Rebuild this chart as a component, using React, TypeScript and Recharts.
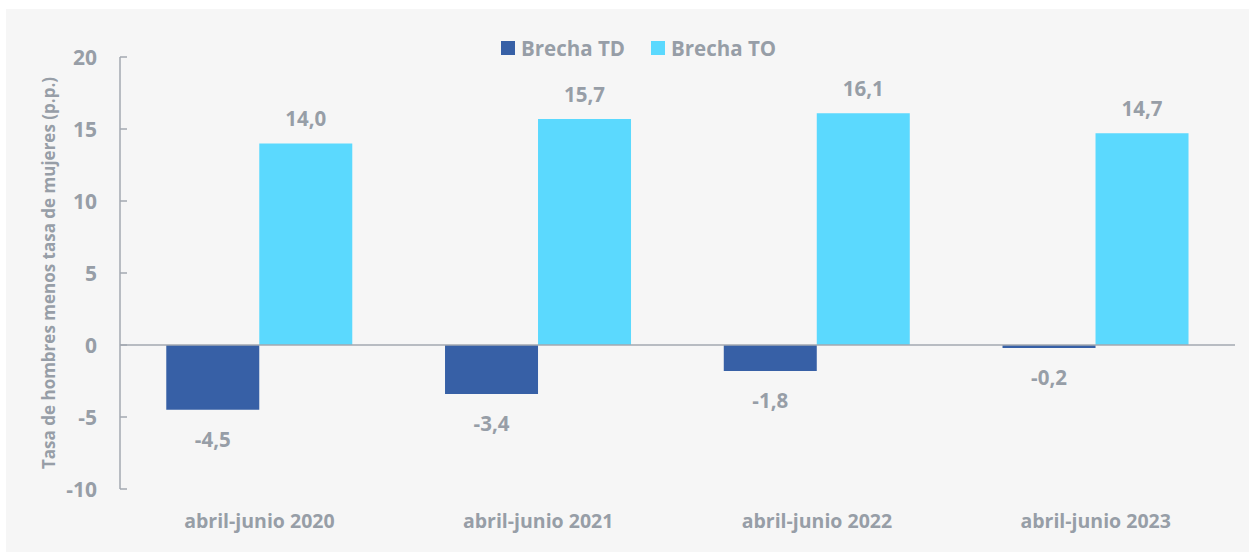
import { BarChart, Bar, XAxis, YAxis, ReferenceLine, LabelList } from 'recharts';

const categories = ['abril-junio 2020', 'abril-junio 2021', 'abril-junio 2022', 'abril-junio 2023'];
const brechaTD = [-4.5, -3.4, -1.8, -0.2];
const brechaTO = [14.0, 15.7, 16.1, 14.7];
const yTicks = [-10, -5, 0, 5, 10, 15, 20];

const data = categories.map((cat, i) => ({ cat, td: brechaTD[i], to: brechaTO[i] }));

const FONT = '"Open Sans", Lato, sans-serif';
const TEXT = '#979ea7';
const AXIS = '#a3a9b0';
const C_TD = '#3760a6';
const C_TO = '#5bd9fe';

const fmt = (v: number) => v.toFixed(1).replace('.', ',');

function YTick(props: any) {
  const { x, y, payload } = props;
  return (
    <g>
      <line x1={x} x2={x + 7} y1={y} y2={y} stroke={AXIS} strokeWidth={1.5} />
      <text x={x - 23} y={y} textAnchor="end" dominantBaseline="central" fill={TEXT}
        fontFamily={FONT} fontWeight={700} fontSize={21}>{payload.value}</text>
    </g>
  );
}

function XTick(props: any) {
  const { x, y, payload } = props;
  return (
    <text x={x} y={y + 39} textAnchor="middle" fill={TEXT} fontFamily={FONT} fontWeight={700} fontSize={19.5}>
      {payload.value}
    </text>
  );
}

function ValueLabel(props: any) {
  const { x, y, width, height, value } = props;
  const top = Math.min(y, y + height);
  const bottom = Math.max(y, y + height);
  const cy = value >= 0 ? top - 25 : bottom + 29;
  return (
    <text x={x + width / 2} y={cy} textAnchor="middle" dominantBaseline="central" fill={TEXT}
      fontFamily={FONT} fontWeight={700} fontSize={20.5}>{fmt(value)}</text>
  );
}

function YLabel(props: any) {
  const { viewBox } = props;
  const cx = viewBox.x + 42;
  const cy = viewBox.y + viewBox.height / 2;
  return (
    <text x={cx} y={cy} transform={`rotate(-90 ${cx} ${cy})`} textAnchor="middle" dominantBaseline="central"
      fill={TEXT} fontFamily={FONT} fontWeight={700} fontSize={17}>
      Tasa de hombres menos tasa de mujeres (p.p.)
    </text>
  );
}

function ChartLegend() {
  const items = [
    { label: 'Brecha TD', color: C_TD },
    { label: 'Brecha TO', color: C_TO },
  ];
  return (
    <div style={{ position: 'absolute', left: 495, top: 27, display: 'flex', alignItems: 'center', fontFamily: FONT, fontWeight: 700, fontSize: 20.5, color: TEXT, lineHeight: '24px', whiteSpace: 'nowrap' }}>
      {items.map((it, i) => (
        <div key={it.label} style={{ display: 'flex', alignItems: 'center', marginLeft: i === 0 ? 0 : 26 }}>
          <span style={{ display: 'inline-block', width: 14, height: 14, background: it.color, marginRight: 6 }} />
          <span>{it.label}</span>
        </div>
      ))}
    </div>
  );
}

export default function App() {
  return (
    <div style={{ position: 'fixed', left: 0, top: 0, width: 1249, height: 552, background: '#ffffff' }}>
      <div style={{ position: 'absolute', left: 6, top: 9, width: 1243, height: 543, background: '#f6f6f6' }}>
        <BarChart width={1243} height={543} data={data} margin={{ top: 48, right: 14, left: 0, bottom: 33 }}
          barCategoryGap="16.6%" barGap={0}>
          <XAxis dataKey="cat" height={30} axisLine={false} tickLine={false} tickSize={0} tickMargin={0} tick={<XTick />} interval={0} />
          <YAxis width={114} domain={[-10, 20]} ticks={yTicks} interval={0} axisLine={{ stroke: AXIS, strokeWidth: 1.5 }}
            tickLine={false} tickSize={0} tickMargin={0} tick={<YTick />} label={<YLabel />} />
          <ReferenceLine y={0} stroke={AXIS} strokeWidth={1.5} />
          <Bar dataKey="td" name="Brecha TD" fill={C_TD} isAnimationActive={false}>
            <LabelList dataKey="td" content={<ValueLabel />} />
          </Bar>
          <Bar dataKey="to" name="Brecha TO" fill={C_TO} isAnimationActive={false}>
            <LabelList dataKey="to" content={<ValueLabel />} />
          </Bar>
        </BarChart>
        <ChartLegend />
      </div>
    </div>
  );
}
